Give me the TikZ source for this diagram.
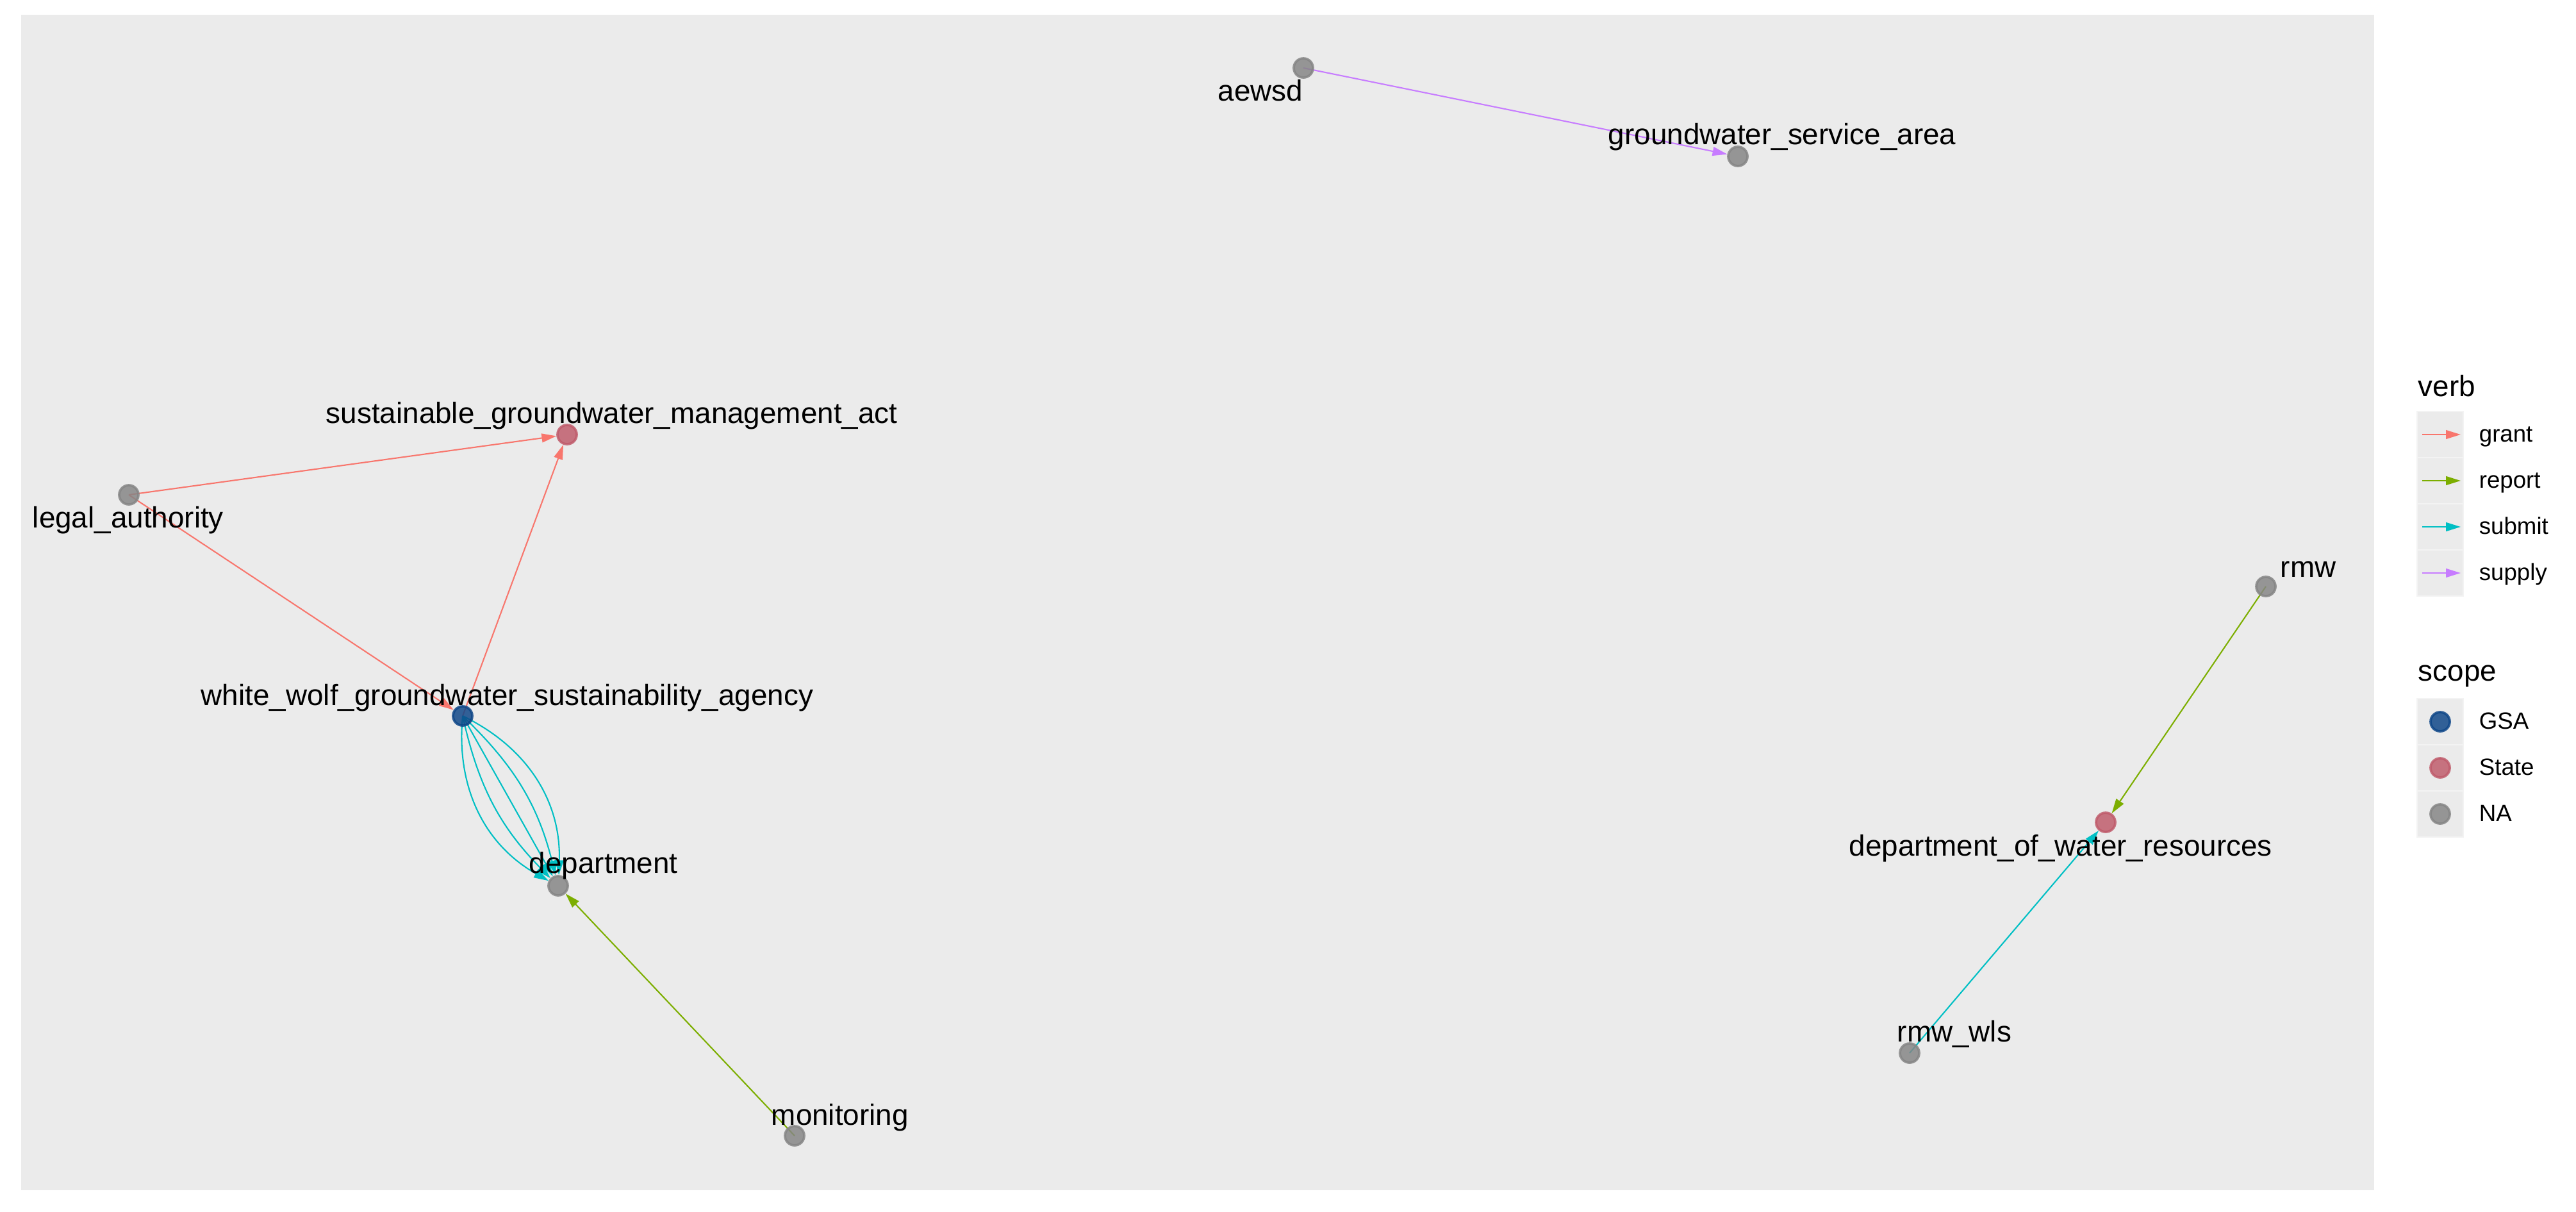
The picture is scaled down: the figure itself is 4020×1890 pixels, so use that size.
\documentclass[tikz,border=0pt]{standalone}
\usepackage{fontspec}
\setmainfont{Liberation Sans}
\usetikzlibrary{arrows.meta}
\pgfdeclarelayer{bglayer}
\pgfdeclarelayer{edgelayer}
\pgfsetlayers{bglayer,edgelayer,main}
\definecolor{panelc}{HTML}{EBEBEB}
\definecolor{keyline}{HTML}{F3F3F3}
\definecolor{grantc}{HTML}{F8766D}
\definecolor{reportc}{HTML}{7CAE00}
\definecolor{submitc}{HTML}{00BFC4}
\definecolor{supplyc}{HTML}{C77CFF}
\definecolor{gsac}{HTML}{0E4688}
\definecolor{statec}{HTML}{C05B6B}
\definecolor{nac}{HTML}{858585}
\begin{document}
\begin{tikzpicture}[x=0.24pt,y=-0.24pt,
  dot/.style={circle, inner sep=0pt, minimum size=7.2pt, line width=0.9pt, fill opacity=0.84, draw opacity=0.84},
  gsa/.style={dot, fill=gsac, draw=gsac},
  state/.style={dot, fill=statec, draw=statec},
  na/.style={dot, fill=nac, draw=nac},
  lbl/.style={anchor=base west, font=\fontsize{11}{13}\selectfont, inner sep=0pt, text=black},
  legtitle/.style={anchor=base west, font=\fontsize{11}{13}\selectfont, inner sep=0pt},
  legtext/.style={anchor=mid west, font=\fontsize{8.8}{10}\selectfont, inner sep=0pt},
  keybox/.style={rectangle, minimum width=17.28pt, minimum height=17.28pt, inner sep=0pt, fill=panelc, draw=keyline, line width=0.3pt},
  edge/.style={line width=0.5pt, -{Triangle[length=5.5pt,width=3.3pt]}},
]
\useasboundingbox (0,0) rectangle (4020,1890);
\begin{pgfonlayer}{bglayer}
\fill[panelc] (33,23) rectangle (3705,1857);
\end{pgfonlayer}

% graph nodes
\node[na] (legal) at (201,772) {};
\node[state] (sgma) at (885,678) {};
\node[gsa] (wwgsa) at (722,1117) {};
\node[na] (dept) at (871,1382) {};
\node[na] (monit) at (1240,1772) {};
\node[na] (aewsd) at (2034,106) {};
\node[na] (gsarea) at (2712,244) {};
\node[na] (rmw) at (3536,915) {};
\node[state] (dwr) at (3286,1283) {};
\node[na] (rmwwls) at (2980,1643) {};

% edges
\begin{pgfonlayer}{edgelayer}
\draw[edge, grantc] (legal.center) -- (sgma);
\draw[edge, grantc] (legal.center) -- (wwgsa);
\draw[edge, grantc] (wwgsa.center) -- (sgma);
\draw[edge, submitc] (wwgsa.center) to[bend right=33] (dept);
\draw[edge, submitc] (wwgsa.center) to[bend right=16] (dept);
\draw[edge, submitc] (wwgsa.center) -- (dept);
\draw[edge, submitc] (wwgsa.center) to[bend left=16] (dept);
\draw[edge, submitc] (wwgsa.center) to[bend left=33] (dept);
\draw[edge, reportc] (monit.center) -- (dept);
\draw[edge, supplyc] (aewsd.center) -- (gsarea);
\draw[edge, reportc] (rmw.center) -- (dwr);
\draw[edge, submitc] (rmwwls.center) -- (dwr);
\end{pgfonlayer}

% labels
\node[lbl] (t-legal) at (50,823) {legal\_authority};
\node[lbl] (t-sgma) at (508,660) {sustainable\_groundwater\_management\_act};
\node[lbl] (t-wwgsa) at (313,1100) {white\_wolf\_groundwater\_sustainability\_agency};
\node[lbl] (t-dept) at (825,1362) {department};
\node[lbl] (t-monit) at (1203,1755) {monitoring};
\node[lbl] (t-aewsd) at (1900,157) {aewsd};
\node[lbl] (t-gsarea) at (2509,225) {groundwater\_service\_area};
\node[lbl] (t-rmw) at (3558,900) {rmw};
\node[lbl] (t-dwr) at (2885,1335) {department\_of\_water\_resources};
\node[lbl] (t-rmwwls) at (2960,1625) {rmw\_wls};

% legend: verb
\node[legtitle] (verbtitle) at (3773,618) {verb};
\node[keybox] (k1) at (3808,678) {};
\node[keybox] (k2) at (3808,750) {};
\node[keybox] (k3) at (3808,822) {};
\node[keybox] (k4) at (3808,894) {};
\coordinate (a1) at (3780,678); \coordinate (b1) at (3840,678);
\coordinate (a2) at (3780,750); \coordinate (b2) at (3840,750);
\coordinate (a3) at (3780,822); \coordinate (b3) at (3840,822);
\coordinate (a4) at (3780,894); \coordinate (b4) at (3840,894);
\draw[edge, grantc] (a1) -- (b1);
\draw[edge, reportc] (a2) -- (b2);
\draw[edge, submitc] (a3) -- (b3);
\draw[edge, supplyc] (a4) -- (b4);
\node[legtext] (l1) at (3868,678) {grant};
\node[legtext] (l2) at (3868,750) {report};
\node[legtext] (l3) at (3868,822) {submit};
\node[legtext] (l4) at (3868,894) {supply};

% legend: scope
\node[legtitle] (scopetitle) at (3773,1062) {scope};
\node[keybox] (s1) at (3808,1126) {};
\node[keybox] (s2) at (3808,1198) {};
\node[keybox] (s3) at (3808,1270) {};
\node[gsa] (p1) at (3808,1126) {};
\node[state] (p2) at (3808,1198) {};
\node[na] (p3) at (3808,1270) {};
\node[legtext] (m1) at (3868,1126) {GSA};
\node[legtext] (m2) at (3868,1198) {State};
\node[legtext] (m3) at (3868,1270) {NA};
\end{tikzpicture}
\end{document}
